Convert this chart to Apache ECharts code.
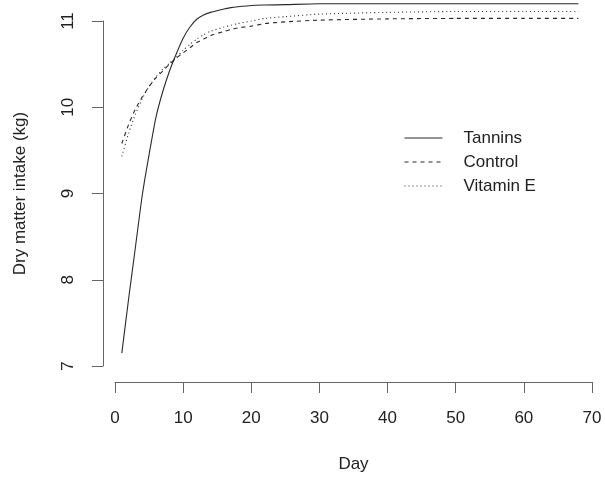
<!DOCTYPE html>
<html>
<head>
<meta charset="utf-8">
<script src="https://cdn.jsdelivr.net/npm/echarts@6/dist/echarts.min.js"></script>
<style>html,body{margin:0;padding:0;background:#fff}#c{width:605px;height:478px}</style>
</head>
<body>
<div id="c"></div>
<script>
var days = [1,2,3,4,5,6,7,8,9,10,11,12,13,14,16,17,18,20,22,25,30,40,50,60,68];
var tannins = [7.15,7.78,8.38,8.98,9.45,9.88,10.18,10.42,10.62,10.80,10.93,11.02,11.07,11.10,11.14,11.155,11.165,11.18,11.185,11.19,11.2,11.2,11.2,11.2,11.2];
var control = [9.58,9.80,9.98,10.12,10.24,10.34,10.42,10.50,10.57,10.63,10.69,10.75,10.79,10.83,10.88,10.90,10.92,10.94,10.97,10.99,11.01,11.025,11.03,11.03,11.03];
var vitaminE = [9.43,9.70,9.92,10.10,10.24,10.35,10.44,10.51,10.58,10.66,10.73,10.79,10.84,10.88,10.93,10.95,10.97,11.00,11.03,11.05,11.08,11.10,11.11,11.11,11.11];
var seriesNames = ['Tannins','Control','Vitamin E'];
var xTicks = {min:0, max:70, interval:10};
var yTicks = {min:7, max:11, interval:1};

function pairs(vals){ return days.map(function(d,i){ return [d, vals[i]]; }); }
var font = '"Liberation Sans", Arial, Helvetica, sans-serif';
var axisCol = '#666';
var lineCol = '#2a2a2a';
var chart = echarts.init(document.getElementById('c'), null, {renderer:'canvas'});
function mkSeries(name, vals, dash){
  return {
    name: name, type: 'line', data: pairs(vals), showSymbol: false, symbol: 'none',
    smooth: 0.2, clip: false, animation: false,
    itemStyle: {color: lineCol},
    lineStyle: {color: lineCol, width: 1.1, type: dash}
  };
}
chart.setOption({
  animation: false,
  grid: {left: 115, right: 13, top: 21, bottom: 111},
  legend: {
    left: 399, top: 123, orient: 'vertical', itemWidth: 38, itemHeight: 14, itemGap: 4,
    data: seriesNames,
    itemStyle: {opacity: 0},
    lineStyle: {width: 1},
    textStyle: {fontFamily: font, fontSize: 17, color: '#222', lineHeight: 20, padding: [0,0,0,16]}
  },
  xAxis: {
    type: 'value', min: xTicks.min, max: xTicks.max, interval: xTicks.interval, offset: 16,
    name: 'Day', nameLocation: 'middle', nameGap: 74,
    nameTextStyle: {fontFamily: font, fontSize: 17, color: '#222'},
    axisLine: {show: true, onZero: false, lineStyle: {color: axisCol, width: 1}},
    axisTick: {show: true, length: 11, lineStyle: {color: axisCol}},
    axisLabel: {fontFamily: font, fontSize: 17, color: '#222', margin: 28},
    splitLine: {show: false}
  },
  yAxis: {
    type: 'value', min: yTicks.min, max: yTicks.max, interval: yTicks.interval, offset: 12,
    name: 'Dry matter intake (kg)', nameLocation: 'middle', nameGap: 74,
    nameTextStyle: {fontFamily: font, fontSize: 17, color: '#222'},
    axisLine: {show: true, onZero: false, lineStyle: {color: axisCol, width: 1}},
    axisTick: {show: true, length: 11, lineStyle: {color: axisCol}},
    axisLabel: {fontFamily: font, fontSize: 17, color: '#222', margin: 26, rotate: 90},
    splitLine: {show: false}
  },
  series: [
    mkSeries(seriesNames[0], tannins, 'solid'),
    mkSeries(seriesNames[1], control, [4,4]),
    mkSeries(seriesNames[2], vitaminE, [1,3])
  ]
});
</script>
</body>
</html>
